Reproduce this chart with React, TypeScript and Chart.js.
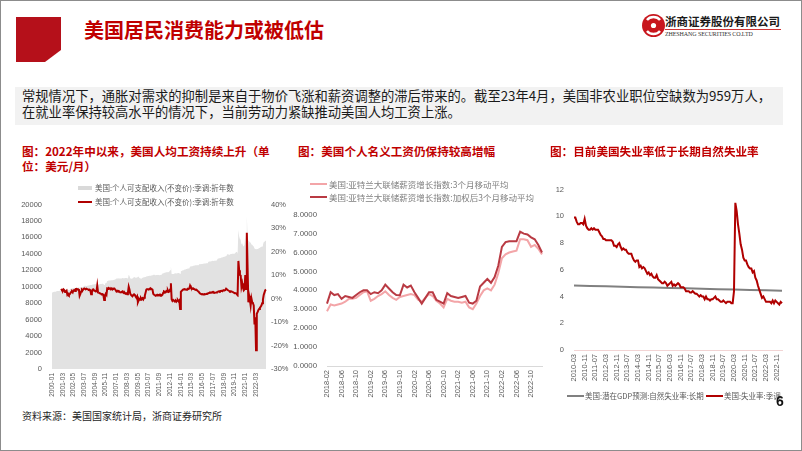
import React, { useEffect, useRef } from "react";
import { Chart, registerables } from "chart.js";
Chart.register(...registerables);

function monthLabels(y0: number, m0: number, y1: number, m1: number): string[] {
  const out: string[] = [];
  let y = y0, m = m0;
  while (y < y1 || (y === y1 && m <= m1)) {
    out.push(`${y}-${String(m).padStart(2, "0")}`);
    m++;
    if (m > 12) { m = 1; y++; }
  }
  return out;
}

// ---------- Chart 1: real disposable income (level, left) and YoY % (right)
const incomeMonths = monthLabels(2000, 1, 2023, 4);
const incomeLevel = [
  9300, 9320, 9350, 9380, 9400, 9420, 9450, 9470, 9480, 9470, 9500, 9520,
  9560, 9570, 9580, 9560, 9550, 9560, 9640, 9780, 9700, 9600, 9590, 9600,
  9750, 9780, 9800, 9820, 9850, 9870, 9860, 9850, 9860, 9880, 9900, 9910,
  9880, 9870, 9900, 9930, 9960, 9990, 10120, 10150, 10080, 10090, 10110, 10140,
  10150, 10180, 10210, 10200, 10230, 10260, 10280, 10290, 10300, 10330, 10360, 10700,
  10250, 10280, 10300, 10320, 10340, 10360, 10370, 10330, 10200, 10390, 10420, 10460,
  10700, 10720, 10750, 10760, 10760, 10800, 10790, 10800, 10820, 10850, 10880, 10900,
  10990, 11010, 11040, 11000, 10990, 11000, 11010, 11030, 11050, 11020, 11030, 11060,
  11050, 11060, 11040, 11010, 11450, 11320, 11020, 10980, 11000, 10990, 11100, 11200,
  11200, 11100, 11080, 11140, 11260, 11220, 11050, 11020, 10980, 11000, 11080, 11120,
  11150, 11180, 11200, 11250, 11290, 11310, 11320, 11340, 11350, 11370, 11380, 11400,
  11440, 11480, 11430, 11410, 11420, 11420, 11450, 11420, 11400, 11440, 11440, 11460,
  11600, 11640, 11660, 11700, 11720, 11750, 11760, 11780, 11750, 11850, 12000, 12500,
  11560, 11550, 11560, 11590, 11600, 11630, 11600, 11640, 11660, 11680, 11650, 11580,
  11880, 11920, 11970, 12010, 12050, 12090, 12110, 12150, 12160, 12220, 12230, 12230,
  12450, 12470, 12480, 12500, 12540, 12560, 12570, 12600, 12620, 12640, 12610, 12600,
  12750, 12760, 12740, 12780, 12780, 12800, 12800, 12830, 12840, 12850, 12860, 12870,
  13050, 13070, 13080, 13100, 13110, 13150, 13130, 13170, 13150, 13170, 13180, 13220,
  13400, 13440, 13450, 13460, 13490, 13560, 13570, 13620, 13650, 13640, 13680, 13780,
  13930, 13940, 13920, 13900, 13920, 13970, 13970, 14010, 14010, 14000, 14010, 14100,
  14230, 14280, 14000, 16900, 16100, 15800, 15700, 15150, 15300, 15000, 14900, 15100,
  16300, 15200, 18600, 16100, 15600, 15500, 15500, 15350, 15150, 15100, 15000, 14900,
  14650, 14600, 14550, 14550, 14600, 14620, 14700, 14780, 14800, 14850, 14900, 15100,
  15400, 15480, 15560, 15620,
];
const incomeYoY: (number | null)[] = [
  null, null, null, null, null, null, null, null, null, null, null, null,
  4.1, 3.5, 3.2, 3.9, 3.6, 2.8, 3.0, 3.3, 1.6, 2.0, 1.5, 1.8,
  2.3, 2.8, 3.0, 2.6, 3.5, 3.6, 3.2, 4.0, 4.1, 3.8, 3.9, 4.0,
  1.2, 2.0, 3.0, 3.8, 3.5, 4.0, 4.3, 4.1, 3.9, 4.2, 4.0, 3.9,
  3.7, 3.8, 3.5, 1.8, 2.5, 3.8, 3.9, 3.4, 3.2, 3.0, 3.1, 5.5,
  2.6, 2.5, 2.3, 2.1, 2.0, 1.8, 1.9, 1.5, -0.6, 1.2, 2.0, 1.5,
  4.3, 4.2, 4.5, 4.2, 3.9, 4.4, 4.1, 4.2, 4.0, 4.3, 4.1, 3.5,
  3.0, 3.3, 3.1, 3.2, 2.9, 2.6, 2.7, 2.8, 3.0, 2.5, 2.2, 2.4,
  2.0, 2.2, 1.8, 2.5, 5.0, 3.8, 2.1, 1.5, 1.2, 1.0, 1.5, 1.8,
  1.5, 0.8, 0.3, 0.9, -1.6, -0.8, -0.2, -0.5, 0.2, -0.3, 0.1, -0.4,
  0.3, 1.2, 2.5, 3.8, 4.0, 3.9, 3.8, 4.1, 3.9, 4.2, 4.0, 3.8,
  2.0, 1.6, 1.5, 1.2, 1.4, 1.3, 1.5, 1.4, 1.6, 1.2, 1.5, 1.3,
  1.6, 2.5, 3.0, 2.8, 2.6, 3.2, 2.9, 3.5, 2.8, 3.0, 3.8, 6.5,
  -0.3, -1.0, -0.6, -0.9, -1.2, -0.8, -1.4, -1.0, -0.7, -1.2, -0.8, -4.5,
  2.8, 3.2, 3.5, 3.8, 3.9, 4.0, 3.8, 3.7, 3.9, 4.2, 4.0, 4.3,
  5.5, 4.8, 4.5, 4.2, 4.0, 4.1, 3.9, 3.7, 3.8, 3.5, 3.2, 3.0,
  2.5, 2.2, 2.0, 1.8, 1.9, 1.7, 1.8, 1.9, 1.8, 1.9, 2.0, 2.1,
  2.2, 2.4, 2.6, 2.5, 2.6, 2.7, 2.5, 2.6, 2.4, 2.5, 2.6, 2.7,
  2.8, 3.0, 3.1, 3.0, 3.2, 3.3, 3.1, 3.4, 3.5, 3.4, 3.6, 4.2,
  4.0, 3.6, 3.4, 3.2, 3.0, 3.1, 3.0, 2.8, 2.7, 2.5, 2.4, 2.3,
  2.2, 1.8, 1.5, 16.0, 12.0, 10.0, 9.8, 5.0, 6.5, 4.5, 3.5, 4.0,
  10.0, 4.0, 28.0, 13.0, -1.6, 1.2, -0.5, -3.0, 0.0, -1.6, -2.0, -3.0,
  -11.0, -8.0, -22.0, -6.5, -5.8, -5.0, -4.5, -4.0, -3.5, -3.0, -2.0, -0.5,
  1.5, 2.5, 3.5, 3.8,
];

// ---------- Chart 2: Atlanta Fed wage growth tracker
const wageMonths = monthLabels(2018, 2, 2023, 1);
const wage3m = [
  2.9, 3.25, 3.2, 3.25, 3.3, 3.4, 3.55, 3.55, 3.6, 3.75, 3.9, 3.95,
  3.45, 3.55, 3.7, 3.8, 3.95, 3.75, 3.6, 3.5, 3.65, 3.7, 3.75, 3.8,
  3.75, 3.5, 3.4, 3.6, 3.8, 3.7, 3.45, 3.3, 3.1, 3.55, 3.45, 3.4,
  3.4, 3.35, 3.4, 3.1, 3.0, 3.3, 3.7, 4.0, 4.1, 4.0, 4.3, 4.9,
  5.7, 5.9, 6.0, 6.05, 6.1, 6.7, 6.7, 6.65, 6.3, 6.4, 6.2, 5.9,
];
const wageWeighted = [
  3.3, 3.9, 3.75, 3.8, 3.55, 3.7, 3.65, 3.6, 3.75, 3.9, 4.0, 4.0,
  3.8, 3.9, 3.85, 4.0, 4.3, 4.1, 3.9, 3.75, 3.74, 4.3, 4.15, 4.25,
  3.9, 3.6, 3.3, 3.6, 3.9, 3.9, 3.5, 3.4, 3.3, 3.85, 3.7, 3.65,
  3.6, 3.65, 3.7, 3.35, 3.3, 3.45, 4.2, 4.4, 4.6, 4.4, 4.7, 5.3,
  6.3, 6.55, 6.6, 6.6, 6.6, 7.1, 7.0, 6.95, 6.8, 6.7, 6.4, 6.0,
];

// ---------- Chart 3: unemployment vs natural rate
const unempMonths = monthLabels(2010, 3, 2023, 3);
const unempRate = [
  9.9, 9.9, 9.6, 9.4, 9.4, 9.5, 9.5, 9.4, 9.8, 9.3,
  9.1, 9.0, 9.0, 9.1, 9.0, 9.1, 9.0, 9.0, 9.0, 8.8, 8.6, 8.5,
  8.3, 8.3, 8.2, 8.2, 8.2, 8.2, 8.2, 8.1, 7.8, 7.8, 7.7, 7.9,
  8.0, 7.7, 7.5, 7.6, 7.5, 7.5, 7.3, 7.2, 7.2, 7.2, 6.9, 6.7,
  6.6, 6.7, 6.7, 6.2, 6.3, 6.1, 6.2, 6.1, 5.9, 5.7, 5.8, 5.6,
  5.7, 5.5, 5.4, 5.4, 5.6, 5.3, 5.2, 5.1, 5.0, 5.0, 5.1, 5.0,
  4.8, 4.9, 5.0, 5.1, 4.8, 4.9, 4.8, 4.9, 5.0, 4.9, 4.7, 4.7,
  4.7, 4.6, 4.4, 4.4, 4.4, 4.3, 4.3, 4.4, 4.3, 4.2, 4.2, 4.1,
  4.0, 4.1, 4.0, 4.0, 3.8, 4.0, 3.8, 3.8, 3.7, 3.8, 3.8, 3.9,
  4.0, 3.8, 3.8, 3.7, 3.6, 3.6, 3.7, 3.6, 3.5, 3.6, 3.6, 3.6,
  3.5, 3.5, 4.4, 11.0, 10.4, 9.4, 8.7, 7.9, 7.5, 6.9, 6.7, 6.7,
  6.4, 6.2, 6.1, 6.1, 5.8, 5.9, 5.4, 5.2, 4.8, 4.5, 4.2, 3.9,
  4.0, 3.8, 3.6, 3.6, 3.6, 3.6, 3.5, 3.7, 3.5, 3.7, 3.6, 3.5,
  3.4, 3.6, 3.5,
];
const naturalMonths = [
  "2010-03", "2011-03", "2012-03", "2013-03", "2014-03", "2015-03", "2016-03",
  "2017-03", "2018-03", "2019-03", "2020-03", "2021-03", "2022-03", "2023-03",
];
const naturalRate = [4.82, 4.79, 4.76, 4.73, 4.70, 4.67, 4.64, 4.61, 4.58, 4.55, 4.52, 4.49, 4.46, 4.43];

const CJK = "'Noto Sans CJK SC', 'Noto Sans', sans-serif";
const LAT = "'Liberation Sans', Arial, sans-serif";
const AXIS = "#595959";

type TP = { x: number; y: number; size: number; color?: string; weight?: number; family?: string; children: React.ReactNode; style?: React.CSSProperties };
const T = ({ x, y, size, color = "#000", weight = 400, family = CJK, children, style }: TP) => (
  <div
    style={{
      position: "absolute", left: x, top: y, fontSize: size, color, fontWeight: weight,
      fontFamily: family, lineHeight: 1, whiteSpace: "nowrap", transform: "translateY(-50%)", ...style,
    }}
  >
    {children}
  </div>
);
const Sw = ({ x, y, w, h, c }: { x: number; y: number; w: number; h: number; c: string }) => (
  <div style={{ position: "absolute", left: x, top: y - h / 2, width: w, height: h, background: c }} />
);

export default function App() {
  const r1 = useRef<HTMLCanvasElement>(null);
  const r2 = useRef<HTMLCanvasElement>(null);
  const r3 = useRef<HTMLCanvasElement>(null);

  useEffect(() => {
    const charts: Chart[] = [];
    const f = (size: number) => ({ family: LAT, size });
    const noGrid = { display: false, drawTicks: false };

    charts.push(
      new Chart(r1.current!, {
        type: "line",
        data: {
          labels: incomeMonths,
          datasets: [
            { label: "yoy", data: incomeYoY, yAxisID: "y1", borderColor: "#B00000", borderWidth: 2, pointRadius: 0, fill: false, order: 0 },
            { label: "level", data: incomeLevel, yAxisID: "y", borderWidth: 0, borderColor: "rgba(0,0,0,0)", backgroundColor: "#E2E2E2", fill: "origin", pointRadius: 0, order: 1 },
          ],
        },
        options: {
          responsive: false, animation: false, devicePixelRatio: 1,
          layout: { padding: { top: 9, left: 0, right: 0, bottom: 0 } },
          plugins: { legend: { display: false }, tooltip: { enabled: false } },
          scales: {
            x: {
              offset: false, grid: noGrid, border: { display: false },
              ticks: { autoSkip: false, maxRotation: 90, minRotation: 90, padding: 4, font: f(6.5), color: AXIS,
                callback: (_v: any, i: number) => (i % 14 === 0 ? incomeMonths[i] : "") },
              afterFit: (s: any) => { s.height = 36; },
            },
            y: {
              position: "left", min: 0, max: 20000, grid: noGrid, border: { display: false },
              ticks: { stepSize: 2000, padding: 10, font: f(7.5), color: AXIS, callback: (v: any) => String(v) },
              afterFit: (s: any) => { s.width = 42; },
            },
            y1: {
              position: "right", min: -30, max: 40, grid: noGrid, border: { display: false },
              ticks: { stepSize: 10, padding: 5, font: f(7.5), color: AXIS, callback: (v: any) => v + "%" },
              afterFit: (s: any) => { s.width = 34; },
            },
          },
        } as any,
      })
    );

    charts.push(
      new Chart(r2.current!, {
        type: "line",
        data: {
          labels: wageMonths,
          datasets: [
            { label: "weighted", data: wageWeighted, borderColor: "#B93A43", borderWidth: 2, pointRadius: 0 },
            { label: "3m", data: wage3m, borderColor: "#F3A5A8", borderWidth: 2, pointRadius: 0 },
          ],
        },
        options: {
          responsive: false, animation: false, devicePixelRatio: 1,
          layout: { padding: { top: 12, left: 0, right: 6, bottom: 0 } },
          plugins: { legend: { display: false }, tooltip: { enabled: false } },
          scales: {
            x: {
              offset: false, grid: noGrid, border: { display: true, color: "#D9D9D9", width: 1 },
              ticks: { autoSkip: false, maxRotation: 90, minRotation: 90, padding: 4, font: f(7.5), color: AXIS,
                callback: (_v: any, i: number) => (i % 4 === 0 ? wageMonths[i] : "") },
              afterFit: (s: any) => { s.height = 39; },
            },
            y: {
              min: 0, max: 8, grid: noGrid, border: { display: false },
              ticks: { stepSize: 1, padding: 10, font: f(7.8), color: AXIS, callback: (v: any) => Number(v).toFixed(4) },
              afterFit: (s: any) => { s.width = 42; },
            },
          },
        } as any,
      })
    );

    charts.push(
      new Chart(r3.current!, {
        type: "line",
        data: {
          labels: unempMonths,
          datasets: [
            { label: "unemp", data: unempRate, borderColor: "#B00000", borderWidth: 2, pointRadius: 0 },
            { label: "natural", data: naturalMonths.map((m, i) => ({ x: m, y: naturalRate[i] })), borderColor: "#808080", borderWidth: 2, pointRadius: 0 },
          ],
        },
        options: {
          responsive: false, animation: false, devicePixelRatio: 1,
          layout: { padding: { top: 10, left: 0, right: 10, bottom: 0 } },
          plugins: { legend: { display: false }, tooltip: { enabled: false } },
          scales: {
            x: {
              offset: false, grid: noGrid, border: { display: true, color: "#F2D4D4", width: 1 },
              ticks: { autoSkip: false, maxRotation: 90, minRotation: 90, padding: 4, font: f(7.5), color: AXIS,
                callback: (_v: any, i: number) => (i % 8 === 0 ? unempMonths[i] : "") },
              afterFit: (s: any) => { s.height = 40; },
            },
            y: {
              min: 0, max: 12, grid: noGrid, border: { display: false },
              ticks: { stepSize: 2, padding: 10, font: f(7.5), color: AXIS },
              afterFit: (s: any) => { s.width = 29; },
            },
          },
        } as any,
      })
    );

    return () => charts.forEach((c) => c.destroy());
  }, []);

  return (
    <div
      style={{
        position: "absolute", left: 0, top: 0, width: 802, height: 451, boxSizing: "border-box",
        border: "1px solid #8C8C8C", background: "#fff", overflow: "hidden", fontFamily: CJK,
      }}
    >
      <canvas ref={r1} width={290} height={215} style={{ position: "absolute", left: 9, top: 189, width: 290, height: 215 }} />
      <canvas ref={r2} width={270} height={205} style={{ position: "absolute", left: 284, top: 199, width: 270, height: 205 }} />
      <canvas ref={r3} width={250} height={215} style={{ position: "absolute", left: 544, top: 174, width: 250, height: 215 }} />

      {/* header */}
      <svg width={802} height={80} style={{ position: "absolute", left: -1, top: -1 }}>
        <polygon points="16,17 61,17 61,50 45,62 16,62" fill="#B5101A" />
        <circle cx={653.5} cy={25.5} r={11.5} fill="#C8161D" />
        <path d="M647 20 C 650 16, 657 16, 660 20" stroke="#fff" strokeWidth={2.4} fill="none" />
        <path d="M647 31 C 650 35, 657 35, 660 31" stroke="#fff" strokeWidth={2.4} fill="none" />
        <circle cx={653.5} cy={25.5} r={2.6} fill="#fff" />
        <line x1={665} y1={29.5} x2={781} y2={29.5} stroke="#C00000" strokeWidth={0.8} />
      </svg>
      <T x={83} y={29} size={20} weight={700} color="#C00000">美国居民消费能力或被低估</T>
      <T x={664} y={21} size={11.5} weight={700} color="#1a1a1a">浙商证券股份有限公司</T>
      <T x={664} y={33} size={6} family="'Liberation Serif', serif" color="#333" style={{ letterSpacing: -0.1 }}>ZHESHANG SECURITIES CO.LTD</T>

      {/* paragraph */}
      <div style={{ position: "absolute", left: 14, top: 86, width: 768, height: 38, background: "#F2F2F2" }} />
      <T x={21} y={95} size={13.3} color="#1a1a1a">常规情况下，通胀对需求的抑制是来自于物价飞涨和薪资调整的滞后带来的。截至23年4月，美国非农业职位空缺数为959万人，</T>
      <T x={21} y={111} size={13.3} color="#1a1a1a">在就业率保持较高水平的情况下，当前劳动力紧缺推动美国人均工资上涨。</T>

      {/* chart titles */}
      <T x={21} y={151} size={11.6} weight={700} color="#C00000">图：2022年中以来，美国人均工资持续上升（单</T>
      <T x={21} y={166} size={11.6} weight={700} color="#C00000">位：美元/月）</T>
      <T x={297} y={151} size={11.6} weight={700} color="#C00000">图：美国个人名义工资仍保持较高增幅</T>
      <T x={549} y={151} size={11.6} weight={700} color="#C00000">图：目前美国失业率低于长期自然失业率</T>

      {/* legend chart 1 */}
      <Sw x={77} y={187} w={14} h={4} c="#D9D9D9" />
      <T x={94} y={187} size={7.5} color="#595959">美国:个人可支配收入(不变价):季调:折年数</T>
      <Sw x={77} y={201} w={14} h={2.5} c="#B00000" />
      <T x={94} y={201} size={7.5} color="#595959">美国:个人可支配收入(不变价):季调:折年数</T>

      {/* legend chart 2 */}
      <Sw x={309} y={183} w={17} h={2} c="#F3A5A8" />
      <T x={328} y={183} size={8.5} color="#7F7F7F">美国:亚特兰大联储薪资增长指数:3个月移动平均</T>
      <Sw x={309} y={196} w={17} h={2} c="#B93A43" />
      <T x={328} y={196} size={8.5} color="#7F7F7F">美国:亚特兰大联储薪资增长指数:加权后3个月移动平均</T>

      {/* legend chart 3 */}
      <Sw x={566} y={395} w={17} h={2} c="#808080" />
      <T x={584} y={395} size={7.5} color="#595959">美国:潜在GDP预测:自然失业率:长期</T>
      <Sw x={705} y={395} w={17} h={2} c="#B00000" />
      <T x={723} y={395} size={7.5} color="#595959">美国:失业率:季调</T>

      <T x={775} y={400} size={14} weight={600} family={LAT} color="#111">6</T>
      <T x={21} y={415} size={10} color="#262626">资料来源：美国国家统计局，浙商证券研究所</T>
    </div>
  );
}
